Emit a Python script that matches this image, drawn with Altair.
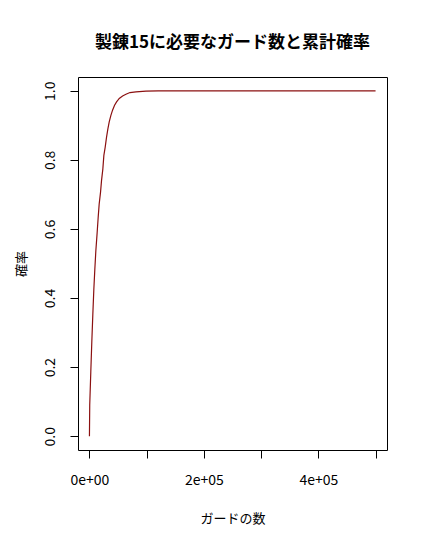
import altair as alt
import pandas as pd

# values (cumulative probability vs number of guards)
guards = [0, 500, 2400, 4150, 5900, 7660, 9400, 11160, 13500, 15250, 17000,
          19350, 21100, 23450, 25200, 27540, 29880, 32220, 34560, 37480,
          40400, 43900, 47400, 52100, 57900, 63800, 70800, 81300, 98800,
          120000, 500000]
prob = [0.0, 0.090, 0.187, 0.274, 0.352, 0.425, 0.483, 0.536, 0.590, 0.633,
        0.672, 0.706, 0.740, 0.774, 0.813, 0.837, 0.866, 0.890, 0.910, 0.929,
        0.944, 0.958, 0.968, 0.978, 0.985, 0.990, 0.995, 0.997, 0.999,
        1.0, 1.0]

x_ticks = [0, 100000, 200000, 300000, 400000, 500000]
y_ticks = [0.0, 0.2, 0.4, 0.6, 0.8, 1.0]

df = pd.DataFrame({"guards": guards, "prob": prob})

FONT = "Noto Sans CJK JP"

chart = alt.Chart(df).mark_line(color="#8B1010", strokeWidth=1.2).encode(
    x=alt.X(
        "guards:Q",
        scale=alt.Scale(domain=[-20000, 520000], nice=False, zero=False),
        axis=alt.Axis(
            title="ガードの数",
            values=x_ticks,
            labelExpr="datum.value == 0 ? '0e+00' : (datum.value % 200000 == 0 ? (datum.value/100000) + 'e+05' : '')",
            grid=False,
            domain=False,
            tickColor="black",
            tickSize=8,
            labelPadding=15,
            labelFontSize=14,
            labelColor="black",
            labelFont=FONT,
            titleFont=FONT,
            titleFontSize=13,
            titleFontWeight="normal",
            titleColor="black",
            titlePadding=25,
        ),
    ),
    y=alt.Y(
        "prob:Q",
        scale=alt.Scale(domain=[-0.04, 1.04], nice=False, zero=False),
        axis=alt.Axis(
            title="確率",
            values=y_ticks,
            format=".1f",
            grid=False,
            domain=False,
            tickColor="black",
            tickSize=8,
            labelAngle=-90,
            labelAlign="center",
            labelBaseline="bottom",
            labelPadding=13,
            labelFontSize=14,
            labelColor="black",
            labelFont=FONT,
            titleFont=FONT,
            titleFontSize=13,
            titleFontWeight="normal",
            titleColor="black",
            titlePadding=15,
        ),
    ),
).properties(
    width=309,
    height=373,
    background="white",
    title=alt.TitleParams(
        "製錬15に必要なガード数と累計確率",
        fontSize=17,
        fontWeight="bold",
        font=FONT,
        color="black",
        anchor="middle",
        offset=25,
    ),
    autosize=alt.AutoSizeParams(type="none"),
    padding={"left": 70, "top": 69, "right": 25, "bottom": 80},
).configure_view(
    stroke="black", strokeWidth=1
)

chart.save("out.html", embed_options={"renderer": "svg", "actions": False})
